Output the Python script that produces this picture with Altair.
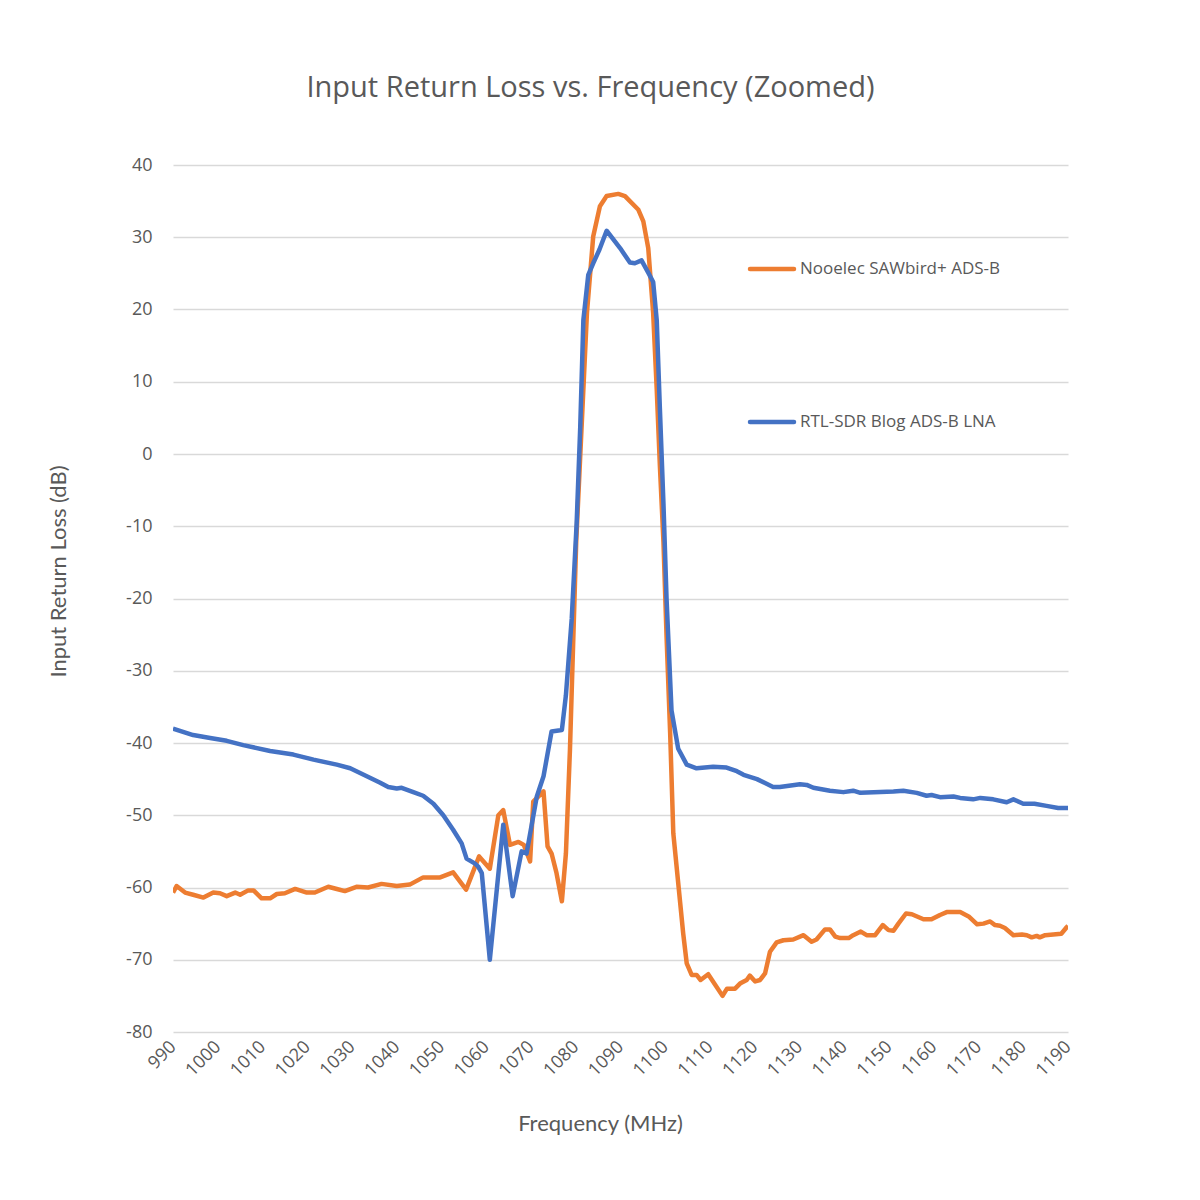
import altair as alt
import pandas as pd

# Nooelec SAWbird+ ADS-B (orange)
freq_nooelec = [990, 990.8, 992.7, 994.5, 996.8, 999, 1000.5, 1002, 1003.9, 1005, 1006.8, 1008, 1009.8,
                1011.7, 1013.2, 1015, 1017.3, 1019.9, 1021.7, 1024.7, 1026.6, 1028.4, 1031, 1033.6, 1036.6,
                1040, 1042.9, 1045.9, 1049.7, 1052.6, 1055.5, 1058.4, 1060.8, 1062.7, 1063.8, 1065.3, 1067.2,
                1068.4, 1069.8, 1070.5, 1072.8, 1073.7, 1074.6, 1075.7, 1076.9, 1077.8, 1078.7, 1080.1, 1082.5,
                1083.9, 1085.4, 1086.9, 1089.5, 1091, 1094, 1095.1, 1096.2, 1097.3, 1098.1, 1098.8, 1099.6,
                1100.3, 1101.1, 1101.8, 1104.0, 1104.8, 1105.9, 1107, 1107.9, 1109.6, 1112.8, 1113.8, 1115.6,
                1116.7, 1118.2, 1118.9, 1120.1, 1121.2, 1122.3, 1123.4, 1124.9, 1126.4, 1128.6, 1130.9, 1132.7,
                1133.8, 1135.7, 1136.8, 1138, 1139.1, 1141, 1142, 1143.7, 1145, 1146.9, 1148.6, 1149.9, 1151,
                1152.1, 1153.8, 1155.1, 1157.7, 1159.5, 1161.4, 1162.9, 1165.9, 1167.8, 1169.7, 1171.1, 1172.6,
                1173.7, 1174.8, 1175.9, 1177.8, 1179.7, 1180.8, 1181.9, 1183, 1183.7, 1184.9, 1186.7, 1188.5,
                1189.7, 1190]
loss_nooelec = [-60.7, -59.8, -60.7, -61.0, -61.4, -60.7, -60.8, -61.2, -60.7, -61.0, -60.4, -60.4, -61.5,
                -61.5, -60.9, -60.8, -60.2, -60.7, -60.7, -59.9, -60.2, -60.5, -59.9, -60.0, -59.5,
                -59.8, -59.6, -58.6, -58.6, -57.9, -60.3, -55.7, -57.4, -50.0, -49.3, -54.1, -53.7,
                -54.1, -56.4, -48.1, -46.7, -54.3, -55.3, -58.0, -61.9, -55.3, -41.0, -12.2, 19.5,
                30.1, 34.3, 35.7, 36.0, 35.7, 33.8, 32.2, 28.5, 19.5, 8.9, -1.6, -12.2,
                -25.4, -38.7, -52.5, -66.3, -70.5, -72.1, -72.1, -72.8, -72.0, -75.0, -74.0, -74.0,
                -73.3, -72.8, -72.2, -73.0, -72.8, -71.9, -68.9, -67.6, -67.3, -67.2, -66.6, -67.5,
                -67.2, -65.8, -65.8, -66.8, -67.0, -67.0, -66.6, -66.1, -66.6, -66.6, -65.2, -65.9, -66.0,
                -65.0, -63.6, -63.7, -64.4, -64.4, -63.8, -63.4, -63.4, -64.0, -65.1, -65.0, -64.7,
                -65.2, -65.3, -65.6, -66.6, -66.5, -66.6, -66.9, -66.7, -66.9, -66.6, -66.5, -66.4,
                -65.5, -65.3]

# RTL-SDR Blog ADS-B LNA (blue)
freq_rtl = [990, 994.5, 998.3, 1002, 1005.7, 1011.7, 1016.9, 1021.4, 1026.6, 1029.6, 1034, 1036.3, 1038.1,
            1040, 1041.1, 1043.7, 1045.9, 1048.2, 1050.4, 1052.6, 1054.5, 1055.6, 1057.5, 1058.2, 1059.0,
            1060.8, 1063.8, 1065.9, 1067.9, 1069.0, 1071.3, 1072.8, 1074.6, 1076.9, 1077.8, 1079.1, 1080.2,
            1081.0, 1081.7, 1082.8, 1083.9, 1085.3, 1086.9, 1089.9, 1092.1, 1093.2, 1094.7, 1096.2, 1097.3,
            1098.1, 1098.8, 1099.6, 1100.3, 1101.4, 1102.9, 1104.8, 1107, 1110.7, 1113.7, 1116, 1117.5,
            1120.5, 1124.1, 1125.6, 1130.1, 1131.6, 1133.1, 1136.8, 1139.8, 1142, 1143.6, 1146.6, 1151,
            1153.2, 1156.2, 1158.4, 1159.5, 1161.4, 1164.4, 1165.9, 1168.8, 1170.4, 1173.3, 1176.3, 1177.8,
            1180, 1182.5, 1185.2, 1187.8, 1190]
loss_rtl = [-38.0, -38.9, -39.3, -39.7, -40.3, -41.1, -41.6, -42.3, -43.0, -43.5, -44.8, -45.5, -46.1,
            -46.3, -46.2, -46.8, -47.3, -48.4, -50.0, -52.0, -53.9, -56.0, -56.7, -57.1, -58.0,
            -70.0, -51.3, -61.2, -55.0, -55.3, -47.4, -44.6, -38.4, -38.2, -33.4, -22.8, -9.6,
            3.7, 18.5, 24.8, 26.4, 28.3, 30.9, 28.5, 26.5, 26.4, 26.8, 25.1, 23.8,
            18.5, 6.3, -6.9, -20.2, -35.5, -40.8, -43.0, -43.5, -43.3, -43.4, -43.9, -44.4,
            -45.0, -46.1, -46.1, -45.7, -45.8, -46.2, -46.6, -46.8, -46.6, -46.9, -46.8, -46.7,
            -46.6, -46.9, -47.3, -47.2, -47.5, -47.4, -47.6, -47.8, -47.6, -47.8, -48.2, -47.8,
            -48.4, -48.4, -48.7, -49.0, -49.0]

series_names = ["Nooelec SAWbird+ ADS-B", "RTL-SDR Blog ADS-B LNA"]
series_colors = ["#ED7D31", "#4472C4"]
x_ticks = list(range(990, 1191, 10))
y_ticks = list(range(-80, 41, 10))

df = pd.concat([
    pd.DataFrame({"freq": freq_nooelec, "loss": loss_nooelec, "series": series_names[0], "order": 0}),
    pd.DataFrame({"freq": freq_rtl, "loss": loss_rtl, "series": series_names[1], "order": 1}),
])

TXT = "#595959"
W, H = 895, 867

xs = alt.Scale(domain=[990, 1190], nice=False, zero=False)
ys = alt.Scale(domain=[-80, 40], nice=False, zero=False)

lines = alt.Chart(df).mark_line(strokeWidth=4.5, strokeJoin="round", clip=True).encode(
    x=alt.X("freq:Q", scale=xs,
            axis=alt.Axis(values=x_ticks, title="Frequency (MHz)", labelAngle=-45, labelAlign="right",
                          labelBaseline="middle", labelPadding=12, labelFontSize=18, labelColor=TXT,
                          labelFont="Open Sans", labelExpr="'' + datum.value",
                          grid=False, ticks=False, domain=False,
                          titleFont="Lato", titleFontSize=22, titleFontWeight="normal", titleColor=TXT,
                          titleX=427, titleY=91, titleBaseline="middle", titleAnchor="start",
                          titleAlign="center", labelOverlap=False, labelFlush=False)),
    y=alt.Y("loss:Q", scale=ys,
            axis=alt.Axis(values=y_ticks, title="Input Return Loss (dB)", labelPadding=21,
                          labelFontSize=18, labelColor=TXT, labelFont="Open Sans",
                          labelExpr="'' + datum.value",
                          grid=True, gridColor="#d9d9d9", gridWidth=1.3, ticks=False, domain=False,
                          titleFont="Lato", titleFontSize=22, titleFontWeight="normal", titleColor=TXT,
                          titleX=-115, titleY=406, titleAngle=-90, titleAlign="center",
                          titleBaseline="middle", labelOverlap=False, labelFlush=False)),
    color=alt.Color("series:N", scale=alt.Scale(domain=series_names, range=series_colors), legend=None),
    order=alt.Order("order:Q"),
    detail="series:N",
)

leg = pd.DataFrame({"series": series_names, "ypix": [104, 257]})
leg_rule = alt.Chart(leg).mark_rule(strokeWidth=4.5, strokeCap="round").encode(
    x=alt.value(577), x2=alt.value(621), y=alt.Y("ypix:Q", scale=None),
    color=alt.Color("series:N", scale=alt.Scale(domain=series_names, range=series_colors), legend=None),
)
leg_text = alt.Chart(leg).mark_text(align="left", baseline="middle", fontSize=17, font="Open Sans",
                                    color=TXT).encode(
    x=alt.value(627), y=alt.Y("ypix:Q", scale=None), text="series:N",
)

chart = alt.layer(lines, leg_rule, leg_text).properties(
    width=W, height=H,
    title=alt.TitleParams("Input Return Loss vs. Frequency (Zoomed)", font="Open Sans", fontSize=29,
                          fontWeight="normal", color=TXT, anchor="middle", offset=53, dx=-30),
    padding={"left": 173, "top": 165, "right": 132, "bottom": 168},
    autosize="none",
).configure(background="white").configure_view(stroke=None, strokeWidth=0)

chart.save("out.html", embed_options={"renderer": "svg", "actions": False})
